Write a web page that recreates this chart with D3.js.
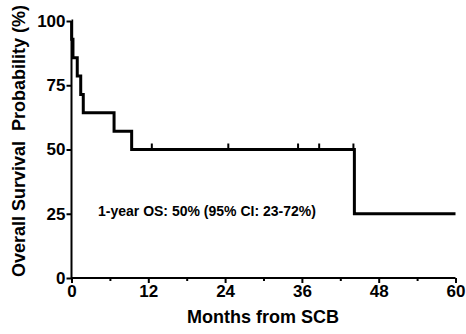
<!DOCTYPE html>
<html lang="en">

<head>
    <meta charset="UTF-8">
    <title>KM curve</title>
    <style>
        body { margin: 0; background: #fff; }
        text { font-family: "Liberation Sans", Arial, sans-serif; font-weight: bold; fill: #000; }
    </style>
</head>

<body>
    <script type='text/javascript' src='https://d3js.org/d3.v7.min.js'></script>
    <script>
        // Kaplan-Meier data (months, % surviving)
        const eventMonths = [0, 0.03, 0.23, 0.9, 1.44, 1.84, 6.65, 9.4, 44.2, 60];
        const survival = [100, 92.86, 85.71, 78.57, 71.43, 64.29, 57.14, 50, 25, 25];
        // censored patients (month, %)
        const censorMonths = [12.55, 24.5, 35.4, 38.7, 44.05];
        const censorSurv = [50, 50, 50, 50, 50];

        const xTicks = [0, 12, 24, 36, 48, 60];
        const xMinorTicks = [6, 18, 30, 42, 54];
        const yTicks = [0, 25, 50, 75, 100];

        const W = 466, H = 334;
        const svg = d3.select('body').append('svg').attr('width', W).attr('height', H);

        const x = d3.scaleLinear().domain([0, 60]).range([71.5, 455.5]);
        const y = d3.scaleLinear().domain([0, 100]).range([278, 21]);

        // axes
        const xAxis = svg.append('g').attr('transform', 'translate(0,278)')
            .call(d3.axisBottom(x).tickValues(xTicks).tickSize(5).tickPadding(2).tickFormat(d3.format('d')));
        svg.append('g').attr('transform', 'translate(0,278)')
            .call(d3.axisBottom(x).tickValues(xMinorTicks).tickSize(3).tickFormat(''))
            .select('.domain').remove();
        const yAxis = svg.append('g').attr('transform', 'translate(71.5,0)')
            .call(d3.axisLeft(y).tickValues(yTicks).tickSize(5).tickPadding(1));

        svg.selectAll('.domain').attr('stroke', '#000').attr('stroke-width', 2);
        svg.selectAll('.tick line').attr('stroke', '#000').attr('stroke-width', 2);
        svg.selectAll('.tick text').style('font-size', '17px').style('font-family', '"Liberation Sans", Arial, sans-serif').style('font-weight', 'bold');
        xAxis.selectAll('.domain').attr('d', 'M71.5,0H455.5');
        yAxis.selectAll('.domain').attr('d', 'M0,21V278');

        // survival curve
        const pts = eventMonths.map((m, i) => [m, survival[i]]);
        const line = d3.line().x(d => x(d[0])).y(d => y(d[1])).curve(d3.curveStepAfter);
        svg.append('path')
            .datum(pts)
            .attr('d', line)
            .attr('fill', 'none')
            .attr('stroke', '#000')
            .attr('stroke-width', 3);

        // censor marks
        svg.selectAll('.censor')
            .data(censorMonths)
            .enter().append('line')
            .attr('class', 'censor')
            .attr('x1', d => x(d)).attr('x2', d => x(d))
            .attr('y1', (d, i) => y(censorSurv[i]))
            .attr('y2', (d, i) => y(censorSurv[i]) - 6)
            .attr('stroke', '#000')
            .attr('stroke-width', 2);

        // labels
        svg.append('text')
            .attr('x', 263).attr('y', 323)
            .attr('text-anchor', 'middle')
            .style('font-size', '18px')
            .text('Months from SCB');

        svg.append('text')
            .attr('transform', 'translate(25,141) rotate(-90)')
            .attr('text-anchor', 'middle')
            .style('font-size', '18px')
            .style('white-space', 'pre')
            .text('Overall Survival  Probability (%)');

        svg.append('text')
            .attr('x', 98).attr('y', 216)
            .style('font-size', '14px')
            .text('1-year OS: 50% (95% CI: 23-72%)');
    </script>
</body>

</html>
